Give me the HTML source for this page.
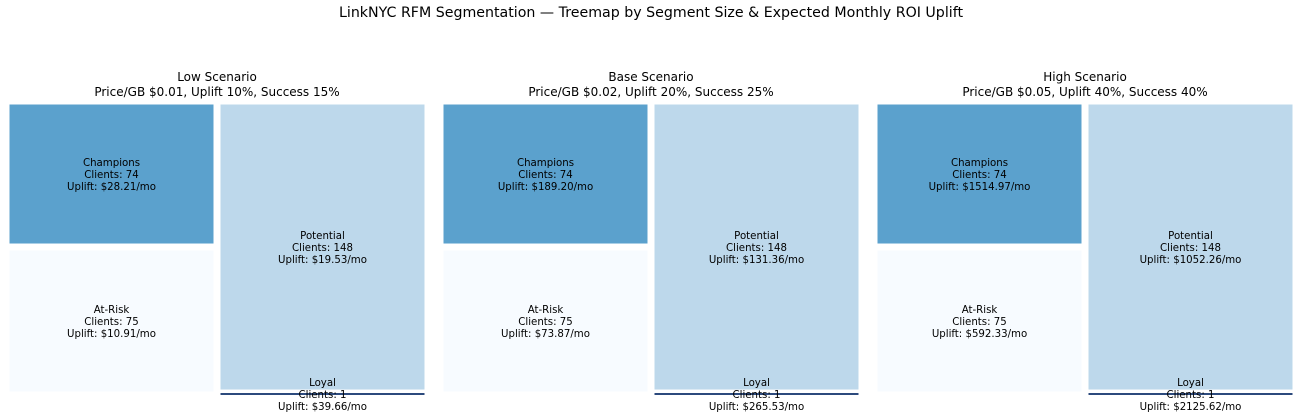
<!DOCTYPE html>
<html><head><meta charset="utf-8"><style>
body{margin:0;background:#fff;}
svg text{font-family:"DejaVu Sans","Liberation Sans",sans-serif;fill:#000;}
</style></head><body>
<svg id="chart" width="1302" height="412">
<text x="651" y="17" text-anchor="middle" font-size="14.2">LinkNYC RFM Segmentation — Treemap by Segment Size &amp; Expected Monthly ROI Uplift</text>
</svg>
<script>
const scenarios=["Low Scenario","Base Scenario","High Scenario"];
const subtitles=["Price/GB $0.01, Uplift 10%, Success 15%","Price/GB $0.02, Uplift 20%, Success 25%","Price/GB $0.05, Uplift 40%, Success 40%"];
const segments=["Champions","At-Risk","Potential","Loyal"];
const clients=[74,75,148,1];
const upliftLow=[28.21,10.91,19.53,39.66];
const upliftBase=[189.20,73.87,131.36,265.53];
const upliftHigh=[1514.97,592.33,1052.26,2125.62];
const uplifts=[upliftLow,upliftBase,upliftHigh];
const colors=["#5ba1cd","#f7fbff","#bdd8eb","#2c4a7d"];
const svg=document.getElementById('chart');
const NS='http://www.w3.org/2000/svg';
function mk(t,a){const e=document.createElementNS(NS,t);for(const k in a)e.setAttribute(k,a[k]);return e;}
const y0=101,y1=395,pad=3.5;
scenarios.forEach((sc,p)=>{
  const px=6+p*434,pw=422;
  const g=mk('g',{});
  
  
  svg.appendChild(g);
  const t1=mk('text',{x:px+pw/2,y:81,'text-anchor':'middle','font-size':12});
  t1.textContent=sc;
  
  
  g.appendChild(t1);
  const t2=mk('text',{x:px+pw/2,y:96,'text-anchor':'middle','font-size':12});
  t2.textContent=subtitles[p];
  
  
  g.appendChild(t2);
  const total=clients.reduce((a,b)=>a+b,0);
  const cols=[[0,1],[2,3]];
  let cx=px;
  cols.forEach(col=>{
    const cs=col.reduce((a,i)=>a+clients[i],0);
    const cw=pw*cs/total;
    let cy=y0;
    col.forEach(i=>{
      const h=(y1-y0)*clients[i]/cs;
      const rh=Math.max(2,h-2*pad);
      const ry=h-2*pad<2?cy+h-2:cy+pad;
      const r=mk('rect',{x:cx+pad,y:ry,width:cw-2*pad,height:rh,fill:colors[i]});
      
      
      g.appendChild(r);
      const mx=cx+cw/2,my=cy+h/2;
      const lines=[segments[i],'Clients: '+clients[i],'Uplift: $'+uplifts[p][i].toFixed(2)+'/mo'];
      lines.forEach((s,k)=>{
        const tt=mk('text',{x:mx,y:my+(k-1)*12+4,'text-anchor':'middle','font-size':10.2});
        tt.textContent=s;
        
        
        g.appendChild(tt);
      });
      cy+=h;
    });
    cx+=cw;
  });
});
</script>
</body></html>
